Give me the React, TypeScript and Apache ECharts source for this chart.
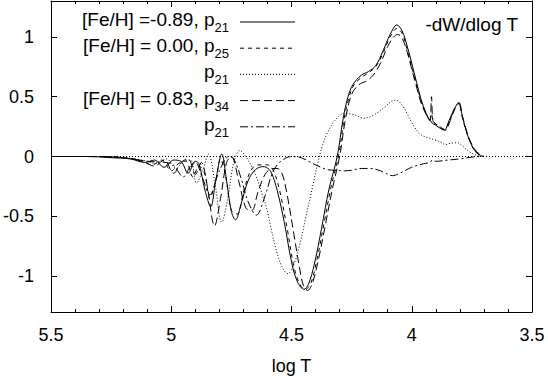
import React, { useEffect, useRef } from "react";
import * as echarts from "echarts";

// [Fe/H] = -0.89, p21 (solid)
const solidT = [5.5, 5.35, 5.25, 5.17, 5.11, 5.07, 5.03, 4.99, 4.96, 4.93, 4.9, 4.885, 4.86, 4.836, 4.815, 4.79, 4.77, 4.75, 4.733, 4.71, 4.68, 4.65, 4.62, 4.605, 4.585, 4.56, 4.53, 4.5, 4.475, 4.448, 4.43, 4.405, 4.375, 4.345, 4.31, 4.285, 4.265, 4.245, 4.21, 4.18, 4.15, 4.12, 4.09, 4.062, 4.04, 4.02, 4.0, 3.98, 3.96, 3.94, 3.92, 3.9, 3.885, 3.865, 3.845, 3.82, 3.803, 3.79, 3.77, 3.75, 3.73, 3.715, 3.7];
const solidW = [0, 0, -0.01, -0.02, -0.05, -0.03, -0.09, -0.03, -0.04, -0.14, -0.04, -0.06, -0.28, -0.42, -0.2, 0.02, -0.2, -0.46, -0.53, -0.4, -0.2, -0.11, -0.085, -0.09, -0.13, -0.28, -0.55, -0.88, -1.05, -1.11, -1.07, -0.9, -0.6, -0.28, 0.0, 0.32, 0.5, 0.6, 0.68, 0.71, 0.76, 0.88, 1.02, 1.1, 1.05, 0.93, 0.78, 0.62, 0.47, 0.36, 0.29, 0.26, 0.24, 0.22, 0.3, 0.41, 0.45, 0.34, 0.19, 0.09, 0.03, 0.01, 0];

// [Fe/H] = 0.00, p25 (short dashes)
const p25T = [5.5, 5.3, 5.2, 5.13, 5.08, 5.04, 5.0, 4.965, 4.94, 4.91, 4.885, 4.86, 4.84, 4.815, 4.795, 4.775, 4.75, 4.725, 4.7, 4.67, 4.64, 4.6, 4.575, 4.55, 4.52, 4.49, 4.465, 4.442, 4.42, 4.395, 4.365, 4.335, 4.303, 4.28, 4.26, 4.24, 4.21, 4.18, 4.15, 4.12, 4.09, 4.062, 4.04, 4.02, 4.0, 3.98, 3.96, 3.94, 3.925, 3.918, 3.91, 3.89, 3.865, 3.84, 3.82, 3.805, 3.79, 3.77, 3.75, 3.73, 3.71, 3.7];
const p25W = [0, 0, -0.01, -0.03, -0.07, -0.03, -0.12, -0.05, -0.04, -0.17, -0.08, -0.15, -0.35, -0.2, -0.02, -0.15, -0.45, -0.48, -0.3, -0.12, -0.07, -0.07, -0.12, -0.28, -0.58, -0.92, -1.07, -1.11, -1.06, -0.87, -0.56, -0.25, 0.02, 0.33, 0.5, 0.6, 0.66, 0.7, 0.75, 0.86, 1.0, 1.07, 1.03, 0.9, 0.75, 0.6, 0.46, 0.36, 0.3, 0.36, 0.29, 0.26, 0.23, 0.31, 0.41, 0.45, 0.33, 0.19, 0.09, 0.03, 0.01, 0];

// [Fe/H] = 0.00, p21 (dotted)
const p21aT = [5.5, 5.3, 5.2, 5.12, 5.06, 5.02, 4.98, 4.95, 4.92, 4.895, 4.87, 4.845, 4.82, 4.79, 4.765, 4.74, 4.715, 4.69, 4.65, 4.62, 4.605, 4.585, 4.565, 4.54, 4.515, 4.49, 4.466, 4.44, 4.412, 4.39, 4.37, 4.35, 4.32, 4.28, 4.24, 4.2, 4.165, 4.12, 4.085, 4.065, 4.04, 4.02, 3.99, 3.96, 3.92, 3.88, 3.86, 3.84, 3.81, 3.79, 3.76, 3.73, 3.71];
const p21aW = [0, 0, -0.01, -0.03, -0.06, -0.02, -0.1, -0.04, -0.03, -0.22, -0.12, 0.02, -0.2, -0.55, -0.35, -0.05, 0.05, 0.0, -0.15, -0.33, -0.42, -0.6, -0.77, -0.92, -0.98, -0.9, -0.74, -0.5, -0.25, -0.05, 0.1, 0.2, 0.3, 0.36, 0.35, 0.32, 0.34, 0.4, 0.46, 0.47, 0.43, 0.36, 0.25, 0.18, 0.15, 0.12, 0.1, 0.11, 0.115, 0.09, 0.04, 0.01, 0];

// [Fe/H] = 0.83, p34 (long dashes)
const p34T = [5.5, 5.3, 5.2, 5.12, 5.07, 5.03, 4.99, 4.96, 4.93, 4.9, 4.875, 4.85, 4.82, 4.795, 4.77, 4.75, 4.72, 4.69, 4.665, 4.64, 4.61, 4.58, 4.56, 4.54, 4.52, 4.49, 4.465, 4.45, 4.433, 4.415, 4.39, 4.36, 4.33, 4.3, 4.275, 4.25, 4.22, 4.19, 4.16, 4.13, 4.1, 4.075, 4.058, 4.04, 4.02, 4.0, 3.98, 3.96, 3.94, 3.925, 3.918, 3.912, 3.9, 3.88, 3.86, 3.84, 3.82, 3.805, 3.79, 3.77, 3.75, 3.73, 3.71, 3.7];
const p34W = [0, 0, -0.01, -0.04, -0.08, -0.03, -0.14, -0.05, -0.02, -0.15, -0.05, -0.25, -0.58, -0.35, -0.05, 0.0, -0.2, -0.43, -0.45, -0.3, -0.15, -0.1, -0.1, -0.14, -0.3, -0.65, -0.95, -1.08, -1.12, -1.07, -0.88, -0.58, -0.27, 0.0, 0.32, 0.52, 0.6, 0.63, 0.68, 0.78, 0.92, 1.0, 1.02, 0.99, 0.88, 0.73, 0.58, 0.44, 0.35, 0.3, 0.5, 0.3, 0.27, 0.24, 0.22, 0.3, 0.4, 0.44, 0.34, 0.2, 0.1, 0.04, 0.01, 0];

// [Fe/H] = 0.83, p21 (dash-dot)
const p21bT = [5.5, 5.3, 5.2, 5.1, 5.0, 4.95, 4.92, 4.9, 4.87, 4.84, 4.8, 4.76, 4.74, 4.71, 4.68, 4.646, 4.61, 4.58, 4.55, 4.5, 4.46, 4.4, 4.35, 4.32, 4.28, 4.25, 4.21, 4.17, 4.13, 4.08, 4.05, 4.0, 3.95, 3.925, 3.915, 3.9, 3.85, 3.8, 3.75, 3.72, 3.7];
const p21bW = [0, 0, -0.01, -0.04, -0.06, -0.17, -0.08, -0.05, -0.18, -0.32, -0.12, 0.0, -0.02, -0.18, -0.38, -0.49, -0.33, -0.14, -0.05, 0.0, -0.01, -0.07, -0.11, -0.115, -0.12, -0.115, -0.1, -0.1, -0.12, -0.16, -0.14, -0.09, -0.06, -0.05, -0.03, -0.04, -0.03, -0.02, -0.005, 0, 0];

const yTickValues = [-1, -0.5, 0, 0.5, 1];
const legendMain = ["[Fe/H] =-0.89, p", "[Fe/H] = 0.00, p", "p", "[Fe/H] = 0.83, p", "p"];
const legendSub = ["21", "25", "21", "34", "21"];
const cornerLabel = "-dW/dlog T";
const xName = "log T";

const FONT = "'Liberation Sans', Arial, Helvetica, sans-serif";

export default function App() {
  const ref = useRef<HTMLDivElement>(null);
  useEffect(() => {
    if (!ref.current) return;
    const chart = echarts.init(ref.current, null, { renderer: "svg" });
    const seriesSets = [
      { t: solidT, w: solidW, type: "solid" as any },
      { t: p25T, w: p25W, type: [4, 4] },
      { t: p21aT, w: p21aW, type: [1, 2] },
      { t: p34T, w: p34W, type: [8, 4] },
      { t: p21bT, w: p21bW, type: [8, 3, 2, 3] },
    ];
    const rowY = (i: number) => 22 + i * 26.2;
    const graphics: any[] = [];
    legendMain.forEach((m, i) => {
      graphics.push({
        type: "text",
        x: 229,
        y: rowY(i),
        style: {
          text: `{m|${m}}{s|${legendSub[i]}}`,
          align: "right",
          verticalAlign: "middle",
          fill: "#000",
          fontFamily: FONT,
          rich: {
            m: { fontSize: 19, lineHeight: 24, verticalAlign: "top", fontFamily: FONT, fill: "#000" },
            s: { fontSize: 13, lineHeight: 13, padding: [11, 0, 0, 0], verticalAlign: "top", fontFamily: FONT, fill: "#000" },
          },
        },
      });
      graphics.push({
        type: "line",
        shape: { x1: 240, y1: rowY(i), x2: 295, y2: rowY(i) },
        style: { stroke: "#000", lineWidth: 1, lineDash: seriesSets[i].type === "solid" ? null : seriesSets[i].type },
      });
    });
    graphics.push({
      type: "text",
      x: 518,
      y: 24,
      style: { text: cornerLabel, align: "right", verticalAlign: "middle", fontSize: 19, fontFamily: FONT, fill: "#000" },
    });

    const xBase = {
      type: "value",
      min: 3.5,
      max: 5.5,
      interval: 0.5,
      inverse: true,
      splitLine: { show: false },
      axisLine: { show: true, onZero: false, lineStyle: { color: "#000", width: 1 } },
      axisTick: { show: true, inside: true, length: 6, lineStyle: { color: "#000" } },
      minorTick: { show: true, splitNumber: 5, length: 3, lineStyle: { color: "#000" } },
    };
    const yBase = {
      type: "value",
      min: -1.3,
      max: 1.3,
      splitLine: { show: false },
      axisLine: { show: true, onZero: false, lineStyle: { color: "#000", width: 1 } },
      axisTick: { show: true, inside: true, length: 6, customValues: yTickValues, lineStyle: { color: "#000" } },
    };

    chart.setOption({
      animation: false,
      grid: { left: 45.6, right: 16, top: 1, bottom: 63, containLabel: false },
      xAxis: [
        {
          ...xBase,
          position: "bottom",
          name: xName,
          nameLocation: "middle",
          nameGap: 45,
          nameTextStyle: { fontSize: 18, fontFamily: FONT, color: "#000" },
          axisLabel: { show: true, margin: 14, fontSize: 18, fontFamily: FONT, color: "#000" },
        },
        { ...xBase, position: "top", axisLabel: { show: false } },
      ],
      yAxis: [
        {
          ...yBase,
          position: "left",
          axisLabel: { show: true, margin: 17, fontSize: 18, fontFamily: FONT, color: "#000", customValues: yTickValues },
        },
        { ...yBase, position: "right", axisLabel: { show: false } },
      ],
      graphic: graphics,
      series: seriesSets.map((s, i) => ({
        type: "line",
        xAxisIndex: 0,
        yAxisIndex: 0,
        data: s.t.map((t, k) => [t, s.w[k]]),
        showSymbol: false,
        symbol: "none",
        smooth: 0.35,
        lineStyle: { color: "#000", width: 1, type: s.type },
        z: 3,
        ...(i === 0
          ? {
              markLine: {
                silent: true,
                symbol: ["none", "none"],
                label: { show: false },
                lineStyle: { color: "#000", width: 1, type: [1, 2] },
                data: [{ yAxis: 0 }],
              },
            }
          : {}),
      })),
    });
    return () => chart.dispose();
  }, []);
  return <div ref={ref} style={{ width: 548, height: 380, position: "absolute", left: 0, top: 0 }} />;
}
